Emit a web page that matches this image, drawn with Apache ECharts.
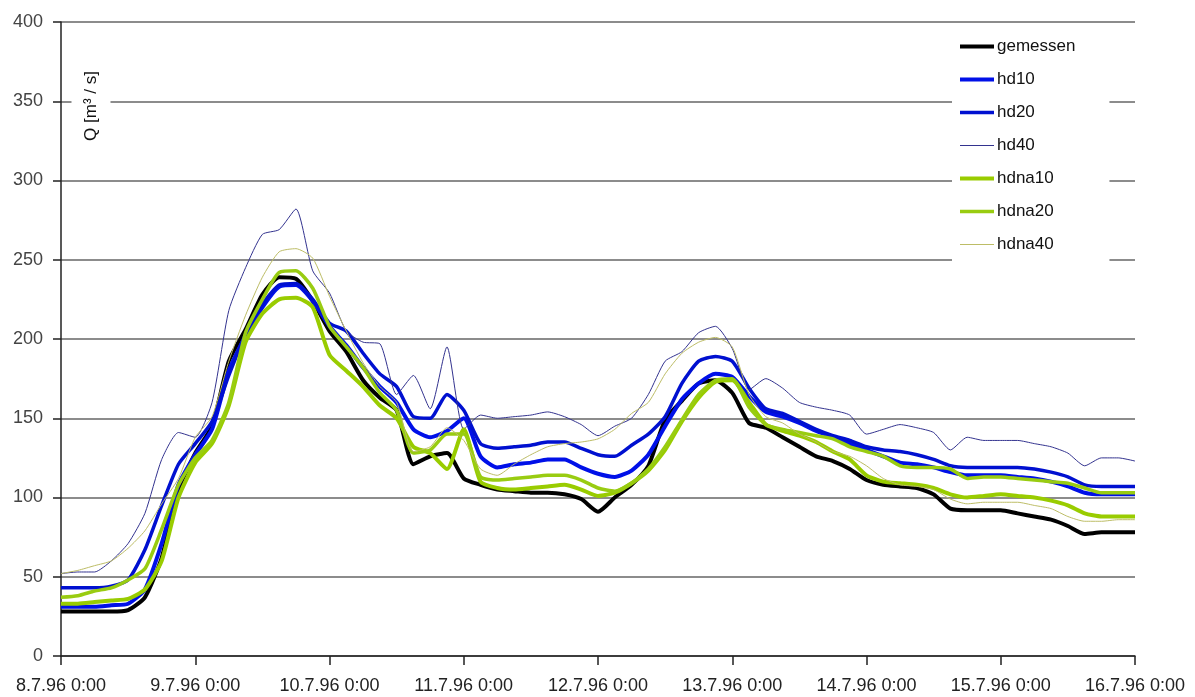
<!DOCTYPE html>
<html>
<head>
<meta charset="utf-8">
<title>Abfluss Juli 1996</title>
<script src="https://cdn.jsdelivr.net/npm/echarts@6/dist/echarts.min.js"></script>
<style>
  html, body { margin: 0; padding: 0; background: #fff; }
  #container { width: 1195px; height: 697px; }
</style>
</head>
<body>
<div id="container"></div>
<script>
// Stunden ab 8.7.96 0:00, alle 3 h
var hours = [];
for (var h = 0; h <= 192; h += 3) hours.push(h);

var gemessen = [28,28,28,28,29,37,62,105,128,145,186,206,228,239,238,224,205,192,174,163,155,121,126,128,112,108,105,104,103,103,102,99,91,100,108,120,149,161,172,174,166,147,144,138,132,126,123,118,111,108,107,106,102,93,92,92,92,90,88,86,82,77,78,78,78];
var hd10 = [31,31,31,32,33,42,71,108,127,143,180,202,220,233,234,224,208,196,182,170,160,143,138,142,150,126,119,121,122,124,124,119,115,113,117,127,145,162,172,178,176,164,154,151,147,142,138,134,130,126,122,121,119,116,114,114,114,113,112,110,107,103,102,102,102];
var hd20 = [43,43,43,44,48,67,95,121,134,148,177,203,222,234,235,225,210,205,191,178,170,151,150,165,155,134,131,132,133,135,135,131,127,126,133,140,151,172,186,189,186,169,156,153,148,143,139,136,132,130,129,127,124,120,119,119,119,119,118,116,113,108,107,107,107];
var hd40 = [52,53,53,60,71,90,124,141,138,160,218,245,266,269,282,243,229,205,198,197,165,177,156,195,143,152,150,151,152,154,151,146,139,145,150,165,186,192,204,208,194,168,175,169,160,157,155,152,140,143,146,144,141,130,138,136,136,136,134,132,128,120,125,125,123];
var hdna10 = [33,33,34,35,36,42,60,100,122,134,158,198,216,225,226,220,190,180,170,158,150,132,128,118,143,110,106,105,106,107,108,105,101,103,109,117,130,148,163,173,174,160,146,142,139,135,129,124,114,110,109,108,106,102,100,101,102,101,100,98,95,90,88,88,88];
var hdna20 = [37,38,41,43,48,55,80,108,125,136,160,204,225,242,243,232,208,195,182,166,155,128,130,140,140,113,111,112,113,114,114,111,106,104,109,118,132,149,165,174,175,157,146,143,141,139,137,132,129,126,120,119,119,118,112,113,113,112,111,110,109,106,103,103,103];
var hdna40 = [52,54,57,60,68,79,96,112,138,151,186,215,239,255,257,251,227,205,185,170,160,129,132,144,136,118,114,121,127,132,134,135,137,143,153,160,178,191,198,201,195,165,151,147,140,135,129,126,120,112,108,107,105,99,96,97,97,97,95,93,88,85,85,86,86];

var seriesDefs = [
    {name: 'gemessen', data: gemessen, color: '#000000', width: 4},
    {name: 'hd10', data: hd10, color: '#0010e8', width: 4},
    {name: 'hd20', data: hd20, color: '#0010d0', width: 3.5},
    {name: 'hd40', data: hd40, color: '#33338f', width: 1},
    {name: 'hdna10', data: hdna10, color: '#99cc00', width: 4},
    {name: 'hdna20', data: hdna20, color: '#99cc11', width: 3.5},
    {name: 'hdna40', data: hdna40, color: '#bdbd66', width: 1}
];

function pairs(vals) {
    var out = [];
    for (var i = 0; i < vals.length; i++) out.push([hours[i], vals[i]]);
    return out;
}

var series = [];
var legendData = [];
for (var i = 0; i < seriesDefs.length; i++) {
    var s = seriesDefs[i];
    series.push({
        name: s.name,
        type: 'line',
        data: pairs(s.data),
        symbol: 'none',
        smooth: 0.2,
        color: s.color,
        lineStyle: {color: s.color, width: s.width}
    });
    legendData.push({name: s.name, lineStyle: {width: s.width}});
}

var dom = document.getElementById('container');
var myChart = echarts.init(dom);
var option = {
    animation: false,
    backgroundColor: '#fff',
    textStyle: {fontFamily: 'Liberation Sans'},
    grid: {left: 61, right: 60, top: 22, bottom: 41},
    legend: {
        orient: 'vertical',
        left: 952,
        top: 30,
        itemWidth: 34,
        itemHeight: 14,
        itemGap: 16,
        padding: [8, 34, 8, 6],
        backgroundColor: '#fff',
        itemStyle: {opacity: 0},
        textStyle: {fontSize: 17, color: '#111', padding: [0, 0, 0, -2]},
        data: legendData
    },
    xAxis: {
        type: 'value',
        min: 0,
        max: 192,
        interval: 24,
        axisLine: {show: true, lineStyle: {color: '#222', width: 1.5}},
        axisTick: {show: true, inside: false, length: 9, lineStyle: {color: '#222', width: 1.5}},
        splitLine: {show: false},
        axisLabel: {
            margin: 21,
            fontSize: 18,
            color: '#222',
            showMaxLabel: true,
            showMinLabel: true,
            formatter: function (v) { return (8 + v / 24) + '.7.96 0:00'; }
        }
    },
    yAxis: {
        type: 'value',
        min: 0,
        max: 400,
        interval: 50,
        axisLine: {show: true, lineStyle: {color: '#222', width: 1.5}},
        axisTick: {show: true, inside: false, length: 8, lineStyle: {color: '#222', width: 1.5}},
        splitLine: {show: true, lineStyle: {color: '#666', width: 1.5}},
        axisLabel: {margin: 18, fontSize: 18, color: '#444'}
    },
    graphic: [{
        type: 'text',
        x: 91,
        y: 106,
        rotation: Math.PI / 2,
        z: 100,
        style: {
            text: 'Q [m³ / s]',
            fontSize: 17,
            fontFamily: 'Liberation Sans',
            fill: '#111',
            align: 'center',
            verticalAlign: 'middle',
            backgroundColor: '#fff',
            padding: [11, 4]
        }
    }],
    series: series
};
if (option && typeof option === "object") {
    myChart.setOption(option, true);
}
</script>
</body>
</html>
